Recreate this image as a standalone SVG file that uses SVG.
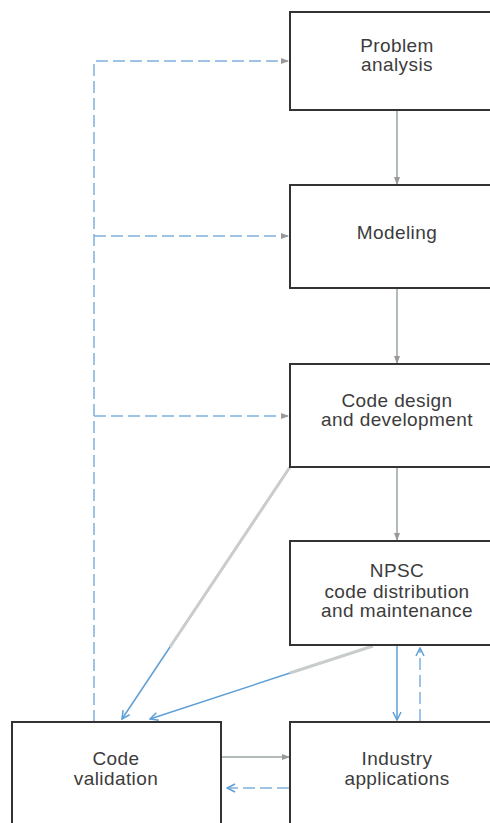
<svg xmlns="http://www.w3.org/2000/svg" width="490" height="823" viewBox="0 0 490 823">
<style>
.box{fill:#fff;stroke:#333;stroke-width:2}
.t{font-family:"Liberation Sans",Arial,sans-serif;font-size:19px;fill:#3c3c3c;text-anchor:middle;letter-spacing:0.4px}
.g{fill:none;stroke:#9aa3a3;stroke-width:1.5}
.gw{fill:none;stroke:#c8cccc;stroke-width:3}
.b{fill:none;stroke:#5d9fd6;stroke-width:1.5}
.bd{fill:none;stroke:#7fb0db;stroke-width:1.5;stroke-dasharray:12 5}
</style>
<defs>
<marker id="ga" viewBox="0 0 8 8" refX="7" refY="4" markerWidth="8" markerHeight="8" markerUnits="userSpaceOnUse" orient="auto">
<path d="M0,1 L8,4 L0,7 Z" fill="#999"/>
</marker>
<marker id="ba" viewBox="0 0 10 10" refX="9" refY="5" markerWidth="10" markerHeight="10" markerUnits="userSpaceOnUse" orient="auto">
<path d="M1,1 L9,5 L1,9" fill="none" stroke="#5d9fd6" stroke-width="1.5"/>
</marker>
</defs>
<g id="connectors">
<line class="g" x1="397" y1="110" x2="397" y2="184" marker-end="url(#ga)"/>
<line class="g" x1="397" y1="288" x2="397" y2="363" marker-end="url(#ga)"/>
<line class="g" x1="397" y1="467" x2="397" y2="540" marker-end="url(#ga)"/>
<polyline class="bd" points="94,722 94,61 288,61" marker-end="url(#ga)"/>
<line class="bd" x1="94" y1="236" x2="288" y2="236" marker-end="url(#ga)"/>
<line class="bd" x1="94" y1="416" x2="288" y2="416" marker-end="url(#ga)"/>
<line class="gw" x1="290" y1="467" x2="170" y2="647"/>
<line class="b" x1="170" y1="647" x2="122" y2="719" marker-end="url(#ba)"/>
<line class="gw" x1="373" y1="646" x2="290" y2="673"/>
<line class="b" x1="290" y1="673" x2="150" y2="719" marker-end="url(#ba)"/>
<line class="b" x1="397" y1="646" x2="397" y2="720" marker-end="url(#ba)"/>
<line class="bd" x1="420" y1="721" x2="420" y2="648" marker-end="url(#ba)"/>
<line class="g" x1="222" y1="757" x2="289" y2="757" marker-end="url(#ga)"/>
<line class="bd" x1="289" y1="788" x2="227" y2="788" marker-end="url(#ba)"/>
</g>
<g id="problem-analysis">
<rect class="box" x="290" y="12" width="214" height="98"/>
<text class="t" x="397" y="52">Problem</text>
<text class="t" x="397" y="71">analysis</text>
</g>
<g id="modeling">
<rect class="box" x="290" y="185" width="214" height="103"/>
<text class="t" x="397" y="239">Modeling</text>
</g>
<g id="code-design">
<rect class="box" x="290" y="364" width="214" height="103"/>
<text class="t" x="397" y="407">Code design</text>
<text class="t" x="397" y="426">and development</text>
</g>
<g id="npsc">
<rect class="box" x="290" y="541" width="214" height="104"/>
<text class="t" x="397" y="577">NPSC</text>
<text class="t" x="397" y="598">code distribution</text>
<text class="t" x="397" y="617">and maintenance</text>
</g>
<g id="code-validation">
<rect class="box" x="12" y="722" width="209" height="120"/>
<text class="t" x="116" y="765">Code</text>
<text class="t" x="116" y="785">validation</text>
</g>
<g id="industry-applications">
<rect class="box" x="290" y="722" width="214" height="120"/>
<text class="t" x="397" y="765">Industry</text>
<text class="t" x="397" y="785">applications</text>
</g>
</svg>
